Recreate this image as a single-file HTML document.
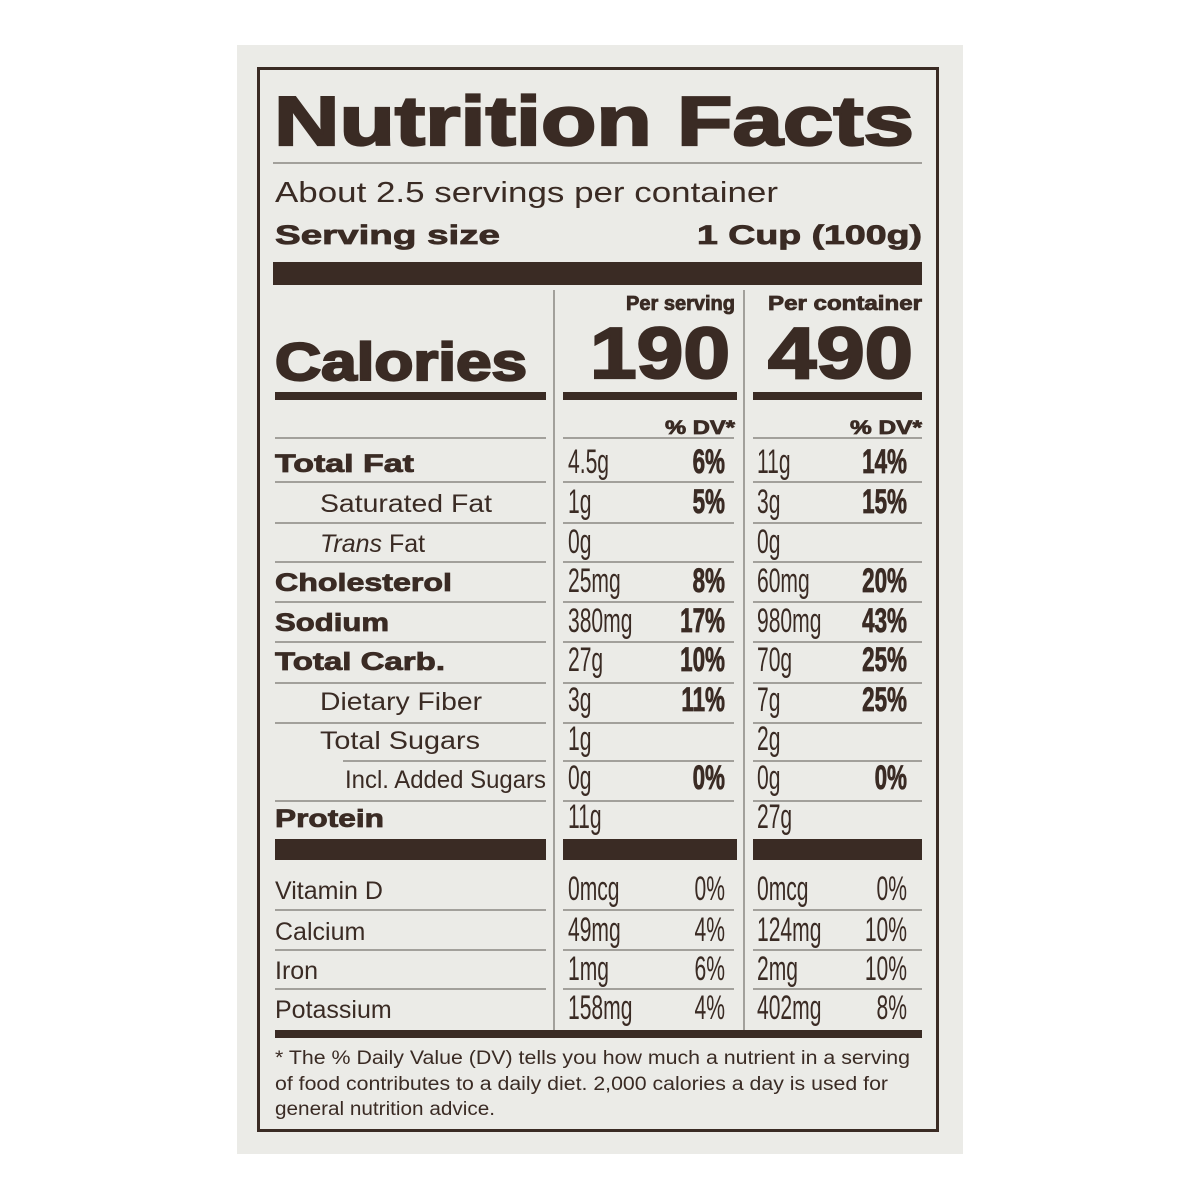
<!DOCTYPE html>
<html><head><meta charset="utf-8"><style>
html,body{margin:0;padding:0;background:#fff;width:1200px;height:1200px;overflow:hidden}
svg{display:block}
text{font-family:"Liberation Sans",sans-serif;fill:#3a2b24}
.b{font-weight:bold;stroke:#3a2b24;stroke-width:0.8}
.t{font-weight:bold;stroke:#3a2b24;stroke-width:2.2}
</style></head><body>
<svg width="1200" height="1200" viewBox="0 0 1200 1200" xmlns="http://www.w3.org/2000/svg">
<rect x="0" y="0" width="1200" height="1200" fill="#fff"/>
<rect x="237" y="45" width="726" height="1109" fill="#ebebe7"/>
<rect x="258.5" y="68.5" width="679" height="1062" fill="none" stroke="#3a2b24" stroke-width="3"/>

<text x="274" y="145" font-size="70" class="t" textLength="640" lengthAdjust="spacingAndGlyphs">Nutrition Facts</text>
<line x1="273" y1="163" x2="922" y2="163" stroke="#8a8782" stroke-width="1.5"/>
<text x="275" y="202" font-size="29" textLength="503" lengthAdjust="spacingAndGlyphs">About 2.5 servings per container</text>
<text x="275" y="244" font-size="27" class="b" textLength="225" lengthAdjust="spacingAndGlyphs">Serving size</text>
<text x="697" y="244" font-size="27" class="b" textLength="225" lengthAdjust="spacingAndGlyphs">1 Cup (100g)</text>
<rect x="273" y="262" width="649" height="23" fill="#3a2b24"/>

<line x1="554" y1="290" x2="554" y2="1030" stroke="#8a8782" stroke-width="1.5"/>
<line x1="744" y1="290" x2="744" y2="1030" stroke="#8a8782" stroke-width="1.5"/>

<text x="626" y="310" font-size="20" class="b" textLength="109" lengthAdjust="spacingAndGlyphs">Per serving</text>
<text x="768" y="310" font-size="20" class="b" textLength="154" lengthAdjust="spacingAndGlyphs">Per container</text>
<text x="590" y="378" font-size="72" class="t" textLength="140" lengthAdjust="spacingAndGlyphs">190</text>
<text x="768" y="378" font-size="72" class="t" textLength="145" lengthAdjust="spacingAndGlyphs">490</text>
<text x="275" y="380" font-size="53" class="t" textLength="252" lengthAdjust="spacingAndGlyphs">Calories</text>
<rect x="275" y="392" width="271" height="8" fill="#3a2b24"/>
<rect x="563" y="392" width="174" height="8" fill="#3a2b24"/>
<rect x="753" y="392" width="169" height="8" fill="#3a2b24"/>
<text x="665" y="434" font-size="19" class="b" textLength="70" lengthAdjust="spacingAndGlyphs">% DV*</text>
<text x="850" y="434" font-size="19" class="b" textLength="72" lengthAdjust="spacingAndGlyphs">% DV*</text>

<g stroke="#8a8782" stroke-width="1.5">
<line x1="275" y1="438" x2="546" y2="438"/><line x1="563" y1="438" x2="734" y2="438"/><line x1="753" y1="438" x2="922" y2="438"/>
<line x1="275" y1="482" x2="546" y2="482"/><line x1="563" y1="482" x2="734" y2="482"/><line x1="753" y1="482" x2="922" y2="482"/>
<line x1="275" y1="523" x2="546" y2="523"/><line x1="563" y1="523" x2="734" y2="523"/><line x1="753" y1="523" x2="922" y2="523"/>
<line x1="275" y1="562" x2="546" y2="562"/><line x1="563" y1="562" x2="734" y2="562"/><line x1="753" y1="562" x2="922" y2="562"/>
<line x1="275" y1="602" x2="546" y2="602"/><line x1="563" y1="602" x2="734" y2="602"/><line x1="753" y1="602" x2="922" y2="602"/>
<line x1="275" y1="642" x2="546" y2="642"/><line x1="563" y1="642" x2="734" y2="642"/><line x1="753" y1="642" x2="922" y2="642"/>
<line x1="275" y1="683" x2="546" y2="683"/><line x1="563" y1="683" x2="734" y2="683"/><line x1="753" y1="683" x2="922" y2="683"/>
<line x1="275" y1="723" x2="546" y2="723"/><line x1="563" y1="723" x2="734" y2="723"/><line x1="753" y1="723" x2="922" y2="723"/>
<line x1="343" y1="761" x2="546" y2="761"/><line x1="563" y1="761" x2="734" y2="761"/><line x1="753" y1="761" x2="922" y2="761"/>
<line x1="275" y1="801" x2="546" y2="801"/><line x1="563" y1="801" x2="734" y2="801"/><line x1="753" y1="801" x2="922" y2="801"/>
<line x1="275" y1="910" x2="546" y2="910"/><line x1="563" y1="910" x2="734" y2="910"/><line x1="753" y1="910" x2="922" y2="910"/>
<line x1="275" y1="950" x2="546" y2="950"/><line x1="563" y1="950" x2="734" y2="950"/><line x1="753" y1="950" x2="922" y2="950"/>
<line x1="275" y1="989" x2="546" y2="989"/><line x1="563" y1="989" x2="734" y2="989"/><line x1="753" y1="989" x2="922" y2="989"/>
</g>

<g font-size="25">
<text x="275" y="472" class="b" textLength="139" lengthAdjust="spacingAndGlyphs">Total Fat</text>
<text x="320" y="512" textLength="172" lengthAdjust="spacingAndGlyphs">Saturated Fat</text>
<text x="320" y="552"><tspan font-style="italic">Trans</tspan> Fat</text>
<text x="275" y="591" class="b" textLength="177" lengthAdjust="spacingAndGlyphs">Cholesterol</text>
<text x="275" y="631" class="b" textLength="114" lengthAdjust="spacingAndGlyphs">Sodium</text>
<text x="275" y="670" class="b" textLength="170" lengthAdjust="spacingAndGlyphs">Total Carb.</text>
<text x="320" y="710" textLength="162" lengthAdjust="spacingAndGlyphs">Dietary Fiber</text>
<text x="320" y="749" textLength="160" lengthAdjust="spacingAndGlyphs">Total Sugars</text>
<text x="345" y="788" textLength="201" lengthAdjust="spacingAndGlyphs">Incl. Added Sugars</text>
<text x="275" y="827" class="b" textLength="109" lengthAdjust="spacingAndGlyphs">Protein</text>
<text x="275" y="899">Vitamin D</text>
<text x="275" y="940">Calcium</text>
<text x="275" y="979">Iron</text>
<text x="275" y="1018">Potassium</text>
</g>

<g font-size="34">
<text transform="translate(568,473) scale(0.62,1)">4.5g</text>
<text transform="translate(568,513) scale(0.62,1)">1g</text>
<text transform="translate(568,553) scale(0.62,1)">0g</text>
<text transform="translate(568,592) scale(0.62,1)">25mg</text>
<text transform="translate(568,632) scale(0.62,1)">380mg</text>
<text transform="translate(568,671) scale(0.62,1)">27g</text>
<text transform="translate(568,711) scale(0.62,1)">3g</text>
<text transform="translate(568,750) scale(0.62,1)">1g</text>
<text transform="translate(568,789) scale(0.62,1)">0g</text>
<text transform="translate(568,828) scale(0.62,1)">11g</text>
<text transform="translate(568,900) scale(0.62,1)">0mcg</text>
<text transform="translate(568,941) scale(0.62,1)">49mg</text>
<text transform="translate(568,980) scale(0.62,1)">1mg</text>
<text transform="translate(568,1019) scale(0.62,1)">158mg</text>
<text transform="translate(757,473) scale(0.62,1)">11g</text>
<text transform="translate(757,513) scale(0.62,1)">3g</text>
<text transform="translate(757,553) scale(0.62,1)">0g</text>
<text transform="translate(757,592) scale(0.62,1)">60mg</text>
<text transform="translate(757,632) scale(0.62,1)">980mg</text>
<text transform="translate(757,671) scale(0.62,1)">70g</text>
<text transform="translate(757,711) scale(0.62,1)">7g</text>
<text transform="translate(757,750) scale(0.62,1)">2g</text>
<text transform="translate(757,789) scale(0.62,1)">0g</text>
<text transform="translate(757,828) scale(0.62,1)">27g</text>
<text transform="translate(757,900) scale(0.62,1)">0mcg</text>
<text transform="translate(757,941) scale(0.62,1)">124mg</text>
<text transform="translate(757,980) scale(0.62,1)">2mg</text>
<text transform="translate(757,1019) scale(0.62,1)">402mg</text>
</g>
<g font-size="34" class="b" text-anchor="end">
<text transform="translate(725,473) scale(0.66,1)">6%</text>
<text transform="translate(725,513) scale(0.66,1)">5%</text>
<text transform="translate(725,592) scale(0.66,1)">8%</text>
<text transform="translate(725,632) scale(0.66,1)">17%</text>
<text transform="translate(725,671) scale(0.66,1)">10%</text>
<text transform="translate(725,711) scale(0.66,1)">11%</text>
<text transform="translate(725,789) scale(0.66,1)">0%</text>
<text transform="translate(907,473) scale(0.66,1)">14%</text>
<text transform="translate(907,513) scale(0.66,1)">15%</text>
<text transform="translate(907,592) scale(0.66,1)">20%</text>
<text transform="translate(907,632) scale(0.66,1)">43%</text>
<text transform="translate(907,671) scale(0.66,1)">25%</text>
<text transform="translate(907,711) scale(0.66,1)">25%</text>
<text transform="translate(907,789) scale(0.66,1)">0%</text>
</g>
<g font-size="34" text-anchor="end">
<text transform="translate(725,900) scale(0.62,1)">0%</text>
<text transform="translate(725,941) scale(0.62,1)">4%</text>
<text transform="translate(725,980) scale(0.62,1)">6%</text>
<text transform="translate(725,1019) scale(0.62,1)">4%</text>
<text transform="translate(907,900) scale(0.62,1)">0%</text>
<text transform="translate(907,941) scale(0.62,1)">10%</text>
<text transform="translate(907,980) scale(0.62,1)">10%</text>
<text transform="translate(907,1019) scale(0.62,1)">8%</text>
</g>

<rect x="275" y="839" width="271" height="21" fill="#3a2b24"/>
<rect x="563" y="839" width="174" height="21" fill="#3a2b24"/>
<rect x="753" y="839" width="169" height="21" fill="#3a2b24"/>
<rect x="275" y="1030" width="647" height="8" fill="#3a2b24"/>

<g font-size="19">
<text x="275" y="1064" textLength="635" lengthAdjust="spacingAndGlyphs">* The % Daily Value (DV) tells you how much a nutrient in a serving</text>
<text x="275" y="1090" textLength="613" lengthAdjust="spacingAndGlyphs">of food contributes to a daily diet. 2,000 calories a day is used for</text>
<text x="275" y="1115" textLength="220" lengthAdjust="spacingAndGlyphs">general nutrition advice.</text>
</g>
</svg>
</body></html>
